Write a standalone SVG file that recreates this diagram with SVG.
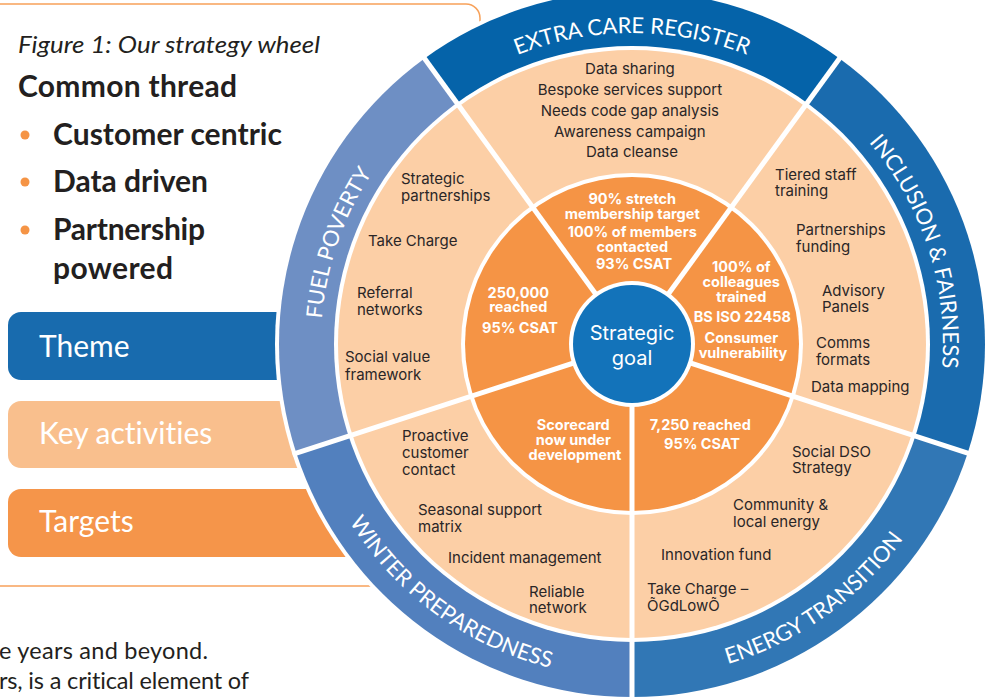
<svg xmlns="http://www.w3.org/2000/svg" width="988" height="699" viewBox="0 0 988 699">
<defs>
<style>
.ka{font-family:Inter,"Liberation Sans",sans-serif;font-size:15px;fill:#2a2627}
.tg{font-family:Inter,"Liberation Sans",sans-serif;font-size:14.5px;font-weight:700;fill:#ffffff;text-anchor:middle}
.ring{font-family:Lato,"Liberation Sans",sans-serif;font-size:22px;font-weight:400;fill:#ffffff}
.lp{font-family:Lato,"Liberation Sans",sans-serif;fill:#231f20;font-variant-ligatures:none}
.box{font-family:Lato,"Liberation Sans",sans-serif;font-size:30px;fill:#ffffff;font-variant-ligatures:none}
.sep{stroke:#ffffff;stroke-width:5}
</style>
<path id="pExtra" d="M321,344 A311,311 0 0 1 943,344"/>
<path id="pIncl" d="M562.0,41.0 A311,311 0 0 1 753.5,630.3"/>
<path id="pFuel" d="M505.5,628.1 A311,311 0 0 1 707.2,42.2"/>
<path id="pEnergy" d="M378.0,560.9 A334,334 0 0 0 919.8,174.5"/>
<path id="pWinter" d="M345.7,172.0 A334,334 0 0 0 884.1,563.1"/>
</defs>
<rect width="988" height="699" fill="#ffffff"/>

<g id="legend">
<path d="M0,4 H466 A14,14 0 0 1 480,18 V80" fill="none" stroke="#f7a15a" stroke-width="1.5"/>
<line x1="0" y1="586" x2="420" y2="586" stroke="#f7a15a" stroke-width="1.5"/>
<text class="lp" x="18" y="53" font-size="23" font-style="italic" textLength="302" lengthAdjust="spacingAndGlyphs">Figure 1: Our strategy wheel</text>
<text class="lp" x="18" y="97" font-size="30" font-weight="700" textLength="219">Common thread</text>
<circle cx="25" cy="135" r="4.5" fill="#f59445"/>
<circle cx="25" cy="182" r="4.5" fill="#f59445"/>
<circle cx="25" cy="230" r="4.5" fill="#f59445"/>
<text class="lp" x="53" y="145" font-size="30" font-weight="700" textLength="229">Customer centric</text>
<text class="lp" x="53" y="192" font-size="30" font-weight="700" textLength="155">Data driven</text>
<text class="lp" x="53" y="240" font-size="30" font-weight="700" textLength="152">Partnership</text>
<text class="lp" x="53" y="279" font-size="30" font-weight="700" textLength="120">powered</text>
<text class="lp" x="-1" y="659" font-size="23.5" textLength="209">e years and beyond.</text>
<text class="lp" x="-1" y="689" font-size="23.5" textLength="250">rs, is a critical element of</text>
</g>

<g id="key-theme">
<rect x="8" y="312" width="420" height="68" rx="13" fill="#186bae"/>
<text class="box" x="39" y="357">Theme</text>
</g>
<g id="key-activities">
<rect x="8" y="401" width="420" height="67" rx="13" fill="#f9bf8d"/>
<text class="box" x="39" y="444">Key activities</text>
</g>
<g id="key-targets">
<rect x="8" y="489" width="420" height="68" rx="13" fill="#f5954a"/>
<text class="box" x="39" y="532">Targets</text>
</g>

<g id="wheel">
<circle cx="632" cy="344" r="357" fill="#ffffff"/>
<path id="seg-extra" d="M632,344 L839.5,58.4 A353,353 0 0 0 424.5,58.4 Z" fill="#0563a9"/>
<path id="seg-fuel" d="M632,344 L424.5,58.4 A353,353 0 0 0 296.3,453.1 Z" fill="#6e8fc4"/>
<path id="seg-winter" d="M632,344 L296.3,453.1 A353,353 0 0 0 632,697 Z" fill="#5280be"/>
<path id="seg-energy" d="M632,344 L632,697 A353,353 0 0 0 967.7,453.1 Z" fill="#3177b5"/>
<path id="seg-incl" d="M632,344 L967.7,453.1 A353,353 0 0 0 839.5,58.4 Z" fill="#1a6bae"/>
<circle cx="632" cy="344" r="298" fill="#ffffff"/>
<circle cx="632" cy="344" r="294" fill="#fccfa6"/>
<circle cx="632" cy="344" r="171" fill="#ffffff"/>
<circle cx="632" cy="344" r="167" fill="#f59445"/>
<g id="dividers">
<line class="sep" x1="632" y1="344" x2="841.8" y2="55.2"/>
<line class="sep" x1="632" y1="344" x2="422.2" y2="55.2"/>
<line class="sep" x1="632" y1="344" x2="292.5" y2="454.3"/>
<line class="sep" x1="632" y1="344" x2="632" y2="701"/>
<line class="sep" x1="632" y1="344" x2="971.5" y2="454.3"/>
</g>
<circle cx="632" cy="344" r="63" fill="#ffffff"/>
</g>

<g id="center">
<circle cx="632" cy="344" r="59" fill="#1373ba"/>
<text x="632" y="340" font-family="Inter,'Liberation Sans',sans-serif" font-size="20" fill="#ffffff" text-anchor="middle">Strategic</text>
<text x="632" y="365" font-family="Inter,'Liberation Sans',sans-serif" font-size="20" fill="#ffffff" text-anchor="middle">goal</text>
</g>

<g id="extra-care-register">
<text class="ring"><textPath href="#pExtra" startOffset="50%" text-anchor="middle">EXTRA CARE REGISTER</textPath></text>
<text class="ka" text-anchor="middle">
<tspan x="632" y="74">Data sharing</tspan>
<tspan x="632" y="95">Bespoke services support</tspan>
<tspan x="632" y="116">Needs code gap analysis</tspan>
<tspan x="632" y="137">Awareness campaign</tspan>
<tspan x="632" y="157">Data cleanse</tspan>
</text>
<text class="tg">
<tspan x="634" y="204">90% stretch</tspan>
<tspan x="634" y="219">membership target</tspan>
<tspan x="634" y="237">100% of members</tspan>
<tspan x="634" y="252">contacted</tspan>
<tspan x="634" y="269">93% CSAT</tspan>
</text>
</g>

<g id="inclusion-fairness">
<text class="ring"><textPath href="#pIncl" startOffset="50%" text-anchor="middle">INCLUSION &amp; FAIRNESS</textPath></text>
<text class="ka">
<tspan x="775" y="180">Tiered staff</tspan>
<tspan x="775" y="196">training</tspan>
<tspan x="796" y="235">Partnerships</tspan>
<tspan x="796" y="252">funding</tspan>
<tspan x="822" y="296">Advisory</tspan>
<tspan x="822" y="312">Panels</tspan>
<tspan x="816" y="348">Comms</tspan>
<tspan x="816" y="365">formats</tspan>
<tspan x="811" y="392">Data mapping</tspan>
</text>
<text class="tg">
<tspan x="743" y="272">100% of</tspan>
<tspan x="743" y="287">colleagues</tspan>
<tspan x="743" y="302">trained</tspan>
<tspan x="744" y="322">BS ISO 22458</tspan>
<tspan x="743" y="343">Consumer</tspan>
<tspan x="743" y="358">vulnerability</tspan>
</text>
</g>

<g id="energy-transition">
<text class="ring"><textPath href="#pEnergy" startOffset="50%" text-anchor="middle">ENERGY TRANSITION</textPath></text>
<text class="ka">
<tspan x="792" y="457">Social DSO</tspan>
<tspan x="792" y="473">Strategy</tspan>
<tspan x="733" y="510">Community &amp;</tspan>
<tspan x="733" y="527">local energy</tspan>
<tspan x="661" y="560">Innovation fund</tspan>
<tspan x="647" y="594">Take Charge –</tspan>
<tspan x="647" y="611">ÕGdLowÕ</tspan>
</text>
<text class="tg">
<tspan x="702" y="430">7,250 reached</tspan>
<tspan x="702" y="449">95% CSAT</tspan>
</text>
</g>

<g id="winter-preparedness">
<text class="ring"><textPath href="#pWinter" startOffset="50%" text-anchor="middle">WINTER PREPAREDNESS</textPath></text>
<text class="ka">
<tspan x="402" y="441">Proactive</tspan>
<tspan x="402" y="458">customer</tspan>
<tspan x="402" y="475">contact</tspan>
<tspan x="418" y="515">Seasonal support</tspan>
<tspan x="418" y="532">matrix</tspan>
<tspan x="448" y="563">Incident management</tspan>
<tspan x="529" y="597">Reliable</tspan>
<tspan x="529" y="613">network</tspan>
</text>
<text class="tg">
<tspan x="575" y="430">Scorecard</tspan>
<tspan x="575" y="445">now under</tspan>
<tspan x="575" y="460">development</tspan>
</text>
</g>

<g id="fuel-poverty">
<text class="ring"><textPath href="#pFuel" startOffset="50%" text-anchor="middle">FUEL POVERTY</textPath></text>
<text class="ka">
<tspan x="401" y="184">Strategic</tspan>
<tspan x="401" y="201">partnerships</tspan>
<tspan x="368" y="246">Take Charge</tspan>
<tspan x="357" y="298">Referral</tspan>
<tspan x="357" y="315">networks</tspan>
<tspan x="345" y="362">Social value</tspan>
<tspan x="345" y="380">framework</tspan>
</text>
<text class="tg">
<tspan x="520" y="298">250,000</tspan>
<tspan x="520" y="312">reached</tspan>
<tspan x="520" y="333">95% CSAT</tspan>
</text>
</g>
</svg>
